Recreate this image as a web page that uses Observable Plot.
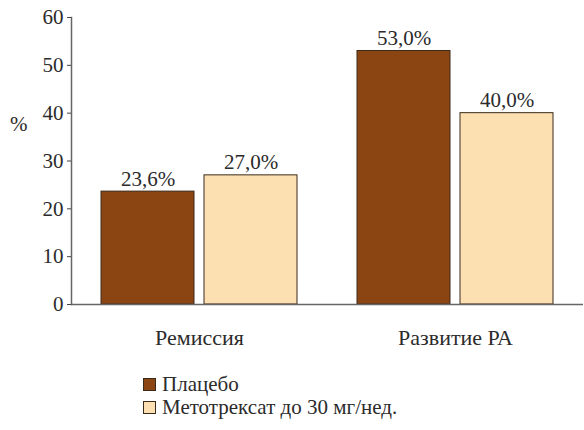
<!DOCTYPE html>
<html>
<head>
<meta charset="utf-8">
<script src="https://cdn.jsdelivr.net/npm/d3@7"></script>
<script src="https://cdn.jsdelivr.net/npm/@observablehq/plot@0.6"></script>
<style>
  body { margin: 0; background: #fff; font-family: "Liberation Serif", serif; color: #2b2b2b; }
  #wrap { position: relative; width: 584px; }
  #ylab { position: absolute; left: 10px; top: 112px; font-size: 21px; }
  .legend { padding-left: 143px; padding-top: 23px; font-size: 21px; line-height: 23px; }
  .legend div { display: flex; align-items: center; }
  .sw { width: 11px; height: 11px; border: 1px solid #3a2a1a; margin-right: 6px; display: inline-block; }
</style>
</head>
<body>
<div id="wrap">
  <div id="chart"></div>
  <div id="ylab">%</div>
  <div class="legend" id="legend"></div>
</div>
<script>
const categories = ["Ремиссия", "Развитие РА"];
const series = ["Плацебо", "Метотрексат до 30 мг/нед."];
const placeboValues = [23.6, 53.0];
const mtxValues = [27.0, 40.0];
const colors = ["#8B4513", "#FDE0B2"];
const yTicks = [0, 10, 20, 30, 40, 50, 60];

const data = [];
categories.forEach((c, i) => {
  data.push({category: c, series: series[0], value: placeboValues[i]});
  data.push({category: c, series: series[1], value: mtxValues[i]});
});
const fmt = v => v.toFixed(1).replace(".", ",") + "%";

const plot = Plot.plot({
  width: 584,
  height: 350,
  marginLeft: 71,
  marginRight: 1,
  marginTop: 17,
  marginBottom: 46,
  style: {fontFamily: "'Liberation Serif', serif", fontSize: "21px", color: "#2b2b2b", background: "white"},
  fx: {domain: categories, padding: 0, label: null},
  x: {domain: series, paddingInner: 0.0971, paddingOuter: 0.291, axis: null},
  y: {domain: [0, 60], label: null, axis: null},
  color: {domain: series, range: colors},
  marks: [
    Plot.barY(data, {fx: "category", x: "series", y: "value", fill: "series", stroke: "#3a2a1a", strokeWidth: 1}),
    Plot.ruleY([0], {stroke: "#666", strokeWidth: 1.5}),
    Plot.frame({anchor: "left", facetAnchor: "left", stroke: "#666", strokeWidth: 1.5}),
    Plot.text(data, {fx: "category", x: "series", y: "value", text: d => fmt(d.value), lineAnchor: "bottom", dy: -6, fill: "#2b2b2b", fontSize: 21}),
    Plot.axisY({ticks: yTicks, tickSize: 4, tickPadding: 4, stroke: "#444", label: null, fontSize: 21}),
    Plot.axisFx({anchor: "bottom", tickSize: 0, tickPadding: 25, label: null, fontSize: 22})
  ]
});
document.getElementById("chart").appendChild(plot);

const legend = document.getElementById("legend");
series.forEach((s, i) => {
  const row = document.createElement("div");
  const sw = document.createElement("span");
  sw.className = "sw";
  sw.style.background = colors[i];
  row.appendChild(sw);
  row.appendChild(document.createTextNode(s));
  legend.appendChild(row);
});
</script>
</body>
</html>
